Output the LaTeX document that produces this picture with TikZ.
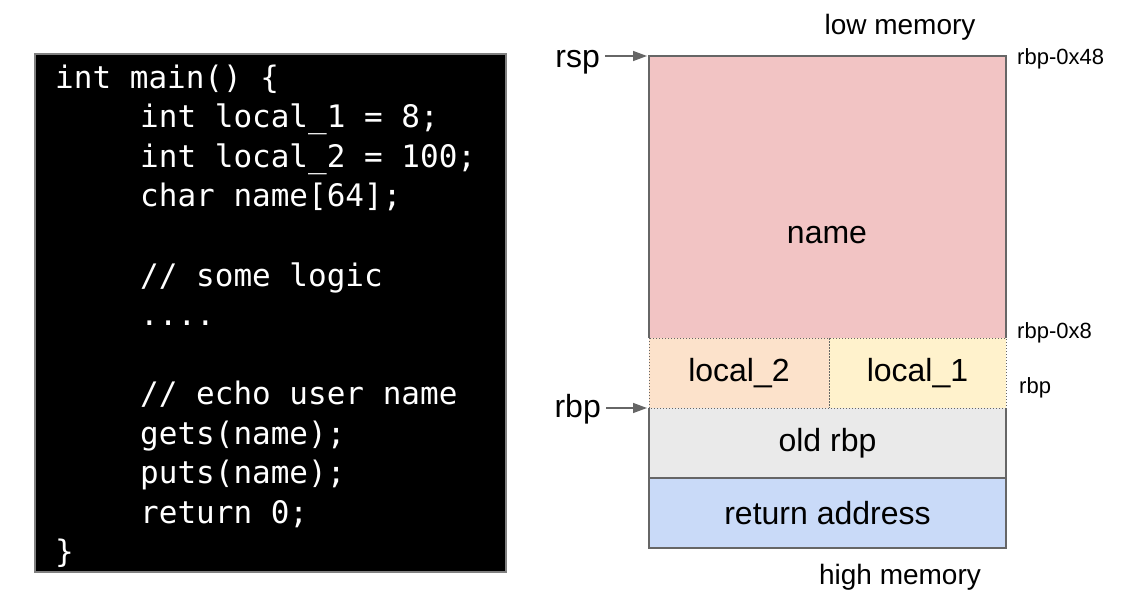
\documentclass[tikz,border=0pt]{standalone}
\usepackage{fontspec}
\setmainfont{Liberation Sans}
\setmonofont{DejaVu Sans Mono}
\usepackage{tikz}
\usetikzlibrary{arrows.meta, positioning}
\usepackage{xcolor}
\definecolor{namepink}{RGB}{242, 196, 196}
\definecolor{localpeach}{RGB}{252, 226, 203}
\definecolor{localyellow}{RGB}{255, 242, 204}
\definecolor{oldgray}{RGB}{234, 234, 234}
\definecolor{retblue}{RGB}{201, 218, 248}
\definecolor{framegray}{RGB}{102, 102, 102}
\definecolor{codeframe}{RGB}{128, 128, 128}

\begin{document}
\begin{tikzpicture}[x=1pt, y=-1pt, >=Stealth,
  codeline/.style={anchor=base west, inner sep=0pt, text=white,
    font=\ttfamily\fontsize{31}{37}\selectfont},
  slot/.style={anchor=north west, inner sep=0pt, outer sep=0pt,
    font=\fontsize{32}{38}\selectfont},
  reglabel/.style={anchor=base east, inner sep=0pt, font=\fontsize{32}{38}\selectfont},
  offlabel/.style={anchor=base west, inner sep=0pt, font=\fontsize{22}{26}\selectfont},
  memlabel/.style={inner sep=0pt, font=\fontsize{28}{32}\selectfont},
  ptr/.style={framegray, line width=1.4pt,
    -{Triangle[length=14pt, width=10pt]}}]

  \useasboundingbox (0,0) rectangle (1133,615);

  % source code panel
  \draw[codeframe, fill=black, line width=2pt] (35,54) rectangle (506,572);
  \node[codeline] (c0)  at (55,88.5)  {int main() \{};
  \node[codeline] (c1)  at (140,128)  {int local\_1 = 8;};
  \node[codeline] (c2)  at (140,167.5) {int local\_2 = 100;};
  \node[codeline] (c3)  at (140,207)  {char name[64];};
  \node[codeline] (c5)  at (140,286)  {// some logic};
  \node[codeline] (c6)  at (140,325.5) {....};
  \node[codeline] (c8)  at (140,404.5) {// echo user name};
  \node[codeline] (c9)  at (140,444)  {gets(name);};
  \node[codeline] (c10) at (140,483.5) {puts(name);};
  \node[codeline] (c11) at (140,523)  {return 0;};
  \node[codeline] (c12) at (55,562.5) {\}};

  % stack slots
  \node[slot, fill=namepink, minimum width=357pt, minimum height=282pt] (name) at (649,56) {};
  \node[slot, anchor=center, fill=none] (nametext) at (827,235) {name};
  \node[slot, fill=localpeach, minimum width=180pt, minimum height=70pt] (loc2) at (649,338) {local\_2};
  \node[slot, fill=localyellow, minimum width=177pt, minimum height=70pt] (loc1) at (829,338) {local\_1};
  \node[slot, fill=oldgray, minimum width=357pt, minimum height=70pt] (oldrbp) at (649,408) {old rbp};
  \node[slot, fill=retblue, minimum width=357pt, minimum height=70pt] (ret) at (649,478) {return address};

  % outlines
  \draw[framegray, line width=1.2pt] (name.south west) -- (name.north west) -- (name.north east) -- (name.south east);
  \draw[framegray, line width=1.2pt] (oldrbp.north west) -- (ret.south west) -- (ret.south east) -- (oldrbp.north east);
  \draw[framegray, line width=1.2pt] (oldrbp.south west) -- (oldrbp.south east);
  \draw[framegray, dotted, line width=1pt] (loc2.north west) rectangle (loc2.south east);
  \draw[framegray, dotted, line width=1pt] (loc1.north west) rectangle (loc1.south east);

  % memory direction
  \node[memlabel] (low) at (900,27) {low memory};
  \node[memlabel] (high) at (900,577) {high memory};

  % registers
  \node[reglabel] (rsp) at (600,68) {rsp};
  \node[reglabel] (rbp) at (601,417) {rbp};
  \draw[ptr] ([xshift=5pt]rsp.east |- name.north west) -- ([xshift=-2pt]name.north west);
  \draw[ptr] ([xshift=5pt]rbp.east |- oldrbp.north west) -- ([xshift=-2pt]oldrbp.north west);

  % offsets
  \node[offlabel] (off48) at (1017,65) {rbp-0x48};
  \node[offlabel] (off8) at (1017,338) {rbp-0x8};
  \node[offlabel] (off0) at (1019,393) {rbp};

\end{tikzpicture}
\end{document}
